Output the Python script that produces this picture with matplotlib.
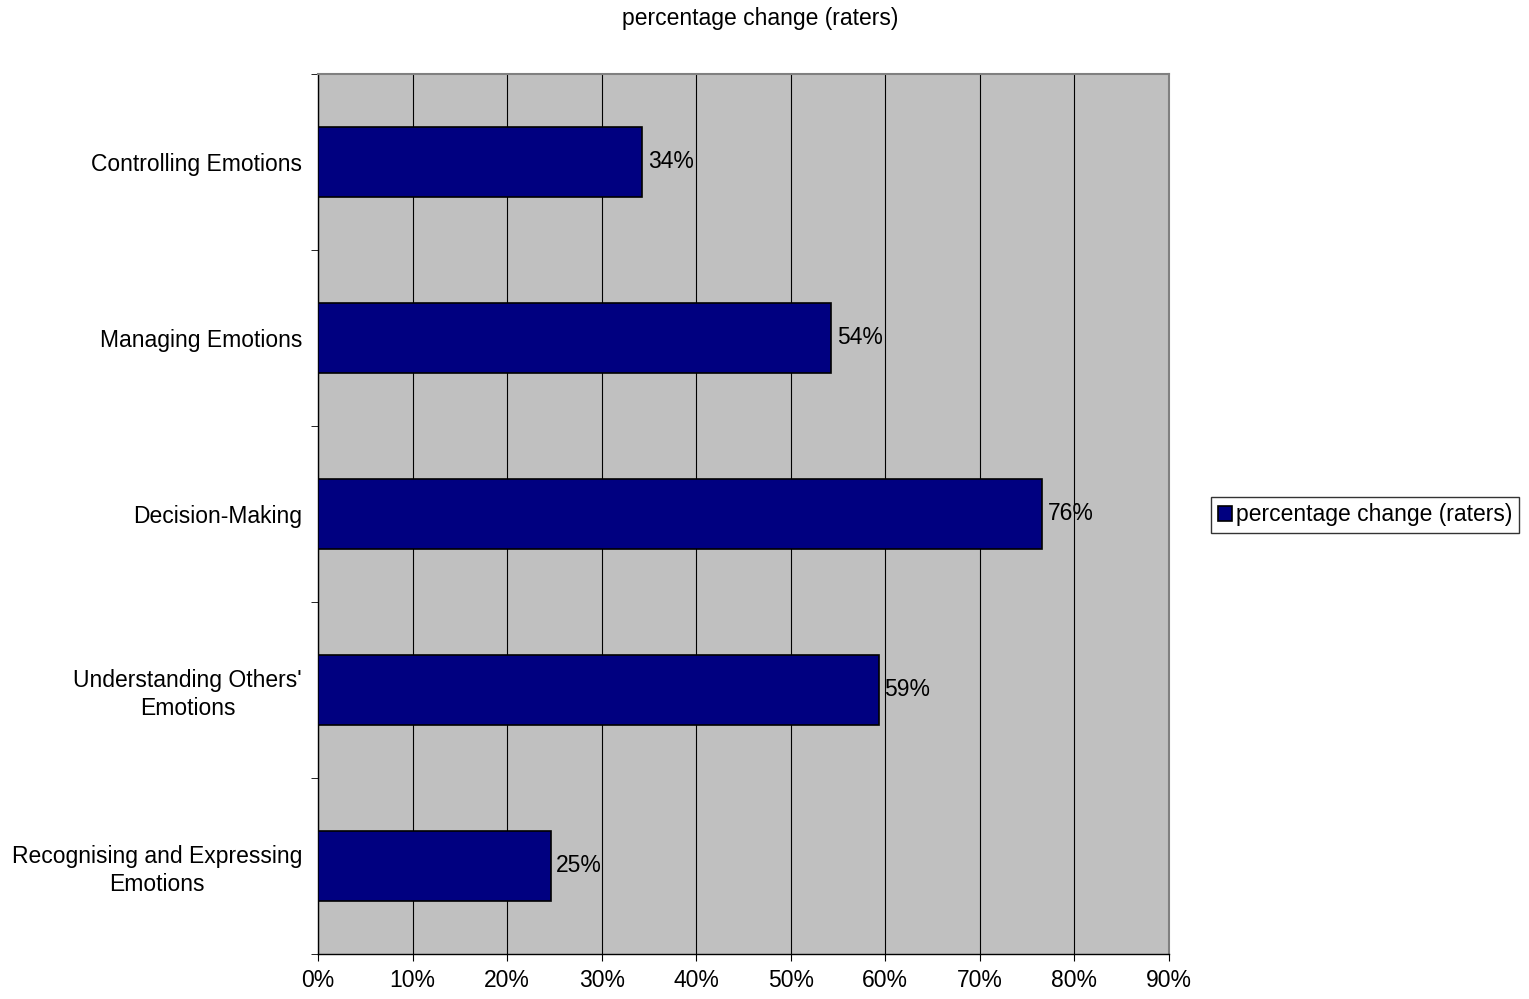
import numpy as np
import matplotlib.pyplot as plt
from matplotlib.ticker import FixedLocator, PercentFormatter

# === Data ===
categories = ["Recognising and Expressing\nEmotions",
              "Understanding Others'\nEmotions",
              "Decision-Making",
              "Managing Emotions",
              "Controlling Emotions"]
values = [0.246, 0.593, 0.766, 0.543, 0.343]
value_labels = ["25%", "59%", "76%", "54%", "34%"]
series_name = "percentage change (raters)"

plt.rcParams['font.family'] = ['Liberation Sans', 'DejaVu Sans']
fs = 16.5

fig = plt.figure(figsize=(15.29, 9.99), dpi=100)
ax = fig.add_axes([318 / 1529, 45 / 999, 851 / 1529, 880 / 999])

y = np.arange(len(categories))
ax.set_facecolor("#c0c0c0")
bars = ax.barh(y, values, height=0.4, color="#000080", edgecolor="black",
               linewidth=1.2, label=series_name, zorder=3)

for b, lab in zip(bars, value_labels):
    ax.text(b.get_width() + 0.006, b.get_y() + b.get_height() / 2, lab,
            va="center", ha="left", fontsize=fs, zorder=4)

ax.set_xlim(0, 0.9)
ax.set_ylim(-0.5, len(categories) - 0.5)
ax.set_xticks(np.arange(0, 0.91, 0.1))
ax.xaxis.set_major_formatter(PercentFormatter(1.0, decimals=0))
ax.grid(axis="x", color="black", linewidth=0.8, zorder=1)

ax.set_yticks(y)
ax.set_yticklabels(categories, fontsize=fs, ha="right", multialignment="center",
                   linespacing=1.25)
ax.yaxis.set_minor_locator(FixedLocator(np.arange(-0.5, len(categories), 1.0)))
ax.tick_params(axis="y", which="major", length=0, pad=11.5)
ax.tick_params(axis="y", which="minor", length=5, direction="out", color="black")
ax.tick_params(axis="x", length=5, direction="out", labelsize=fs, pad=6)

for s in ["top", "right"]:
    ax.spines[s].set_color("#808080")
    ax.spines[s].set_linewidth(1.5)
for s in ["left", "bottom"]:
    ax.spines[s].set_color("black")
    ax.spines[s].set_linewidth(1.0)

fig.text(760 / 1529, 1 - 19 / 999, series_name, ha="center", va="center", fontsize=fs)

leg = fig.legend(loc="center left", bbox_to_anchor=(1211 / 1529, 1 - 515 / 999),
                 fontsize=fs, frameon=True, fancybox=False, handlelength=0.6,
                 handleheight=0.6, handletextpad=0.2, borderpad=0.3,
                 borderaxespad=0)
leg.get_frame().set_edgecolor("black")
leg.get_frame().set_linewidth(1.0)

fig.savefig("out.png", dpi=100, facecolor="white")
